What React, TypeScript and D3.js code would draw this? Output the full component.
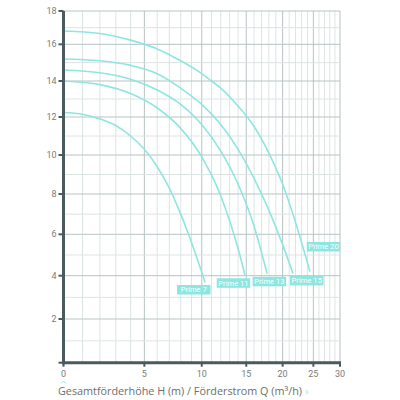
import React from 'react';
import * as d3 from 'd3';

const xTicks = [0, 5, 10, 15, 20, 25, 30];
const yTicks = [0, 2, 4, 6, 8, 10, 12, 14, 16, 18];
const xMinor = d3.range(0, 31, 1);
const yMinor = d3.range(0, 19, 1);

const seriesNames = ['Prime 7', 'Prime 11', 'Prime 13', 'Prime 15', 'Prime 20'];
const prime7Q = [0, 1, 2, 3, 4, 5, 6, 7, 8, 9, 10.33];
const prime7H = [12.25, 12.15, 11.9, 11.55, 11.0, 10.3, 9.4, 8.3, 7.0, 5.6, 3.7];
const prime11Q = [0, 2, 4, 6, 8, 10, 12, 14, 14.86];
const prime11H = [14.0, 13.8, 13.3, 12.5, 11.4, 9.9, 7.9, 5.3, 4.0];
const prime13Q = [0, 2, 4, 6, 8, 10, 12, 14, 16, 17.75];
const prime13H = [14.6, 14.45, 14.1, 13.5, 12.7, 11.6, 10.2, 8.5, 6.4, 4.1];
const prime15Q = [0, 2, 4, 6, 8, 10, 12, 14, 16, 18, 20, 21.6];
const prime15H = [15.2, 15.1, 14.85, 14.4, 13.6, 12.7, 11.6, 10.3, 8.8, 7.2, 5.5, 4.1];
const prime20Q = [0, 2, 4, 5, 6, 8, 10, 11, 12, 14, 16, 18, 20, 22, 24.4];
const prime20H = [16.8, 16.65, 16.25, 16.0, 15.75, 15.1, 14.4, 14.0, 13.6, 12.6, 11.5, 10.1, 8.5, 6.6, 4.2];

const seriesQ = [prime7Q, prime11Q, prime13Q, prime15Q, prime20Q];
const seriesH = [prime7H, prime11H, prime13H, prime15H, prime20H];

// label anchor (top-left corner) in data units
const labelQ = [7.67, 11.56, 15.81, 21.13, 23.86];
const labelH = [3.57, 3.88, 3.95, 3.99, 5.63];

const xTitle = 'Gesamtförderhöhe H (m) / Förderstrom Q (m³/h)';

const TEAL = '#8ee6e0';
const AXIS = '#4a5a5e';
const FONT = 'Roboto, "Open Sans", sans-serif';

export default function App() {
  const xLog = d3.scaleLog().domain([10, 40]).range([63.5, 340]);
  const x = (q: number) => xLog(q + 10);
  const y = d3
    .scaleLinear()
    .domain(yTicks)
    .range([362.7, 319, 275.7, 234.3, 194, 155, 117, 81, 44.3, 11]);

  const x0 = x(0);
  const x1 = x(30);
  const y0 = y(0);
  const y1 = y(18);

  const line = d3
    .line<[number, number]>()
    .x((d) => x(d[0]))
    .y((d) => y(d[1]))
    .curve(d3.curveMonotoneX);

  return (
    <svg
      width={400}
      height={400}
      style={{ position: 'absolute', left: 0, top: 0, background: '#fff' }}
      fontFamily={FONT}
    >
      {/* vertical grid */}
      {xMinor.map((q) => (
        <line
          key={'vx' + q}
          x1={x(q)}
          x2={x(q)}
          y1={y1}
          y2={y0}
          stroke={q % 5 === 0 ? '#b7c3c3' : '#dde4e4'}
          strokeWidth={1}
        />
      ))}
      {/* horizontal grid */}
      {yMinor.map((h) => (
        <line
          key={'hy' + h}
          x1={x0}
          x2={x1}
          y1={y(h)}
          y2={y(h)}
          stroke={h % 2 === 0 ? '#b7c3c3' : '#dde4e4'}
          strokeWidth={1}
        />
      ))}

      {/* curves */}
      {seriesNames.map((name, i) => {
        const pts: [number, number][] = seriesQ[i].map((q, j) => [q, seriesH[i][j]]);
        return (
          <path key={name} d={line(pts) || ''} fill="none" stroke={TEAL} strokeWidth={1.6} />
        );
      })}

      {/* labels */}
      {seriesNames.map((name, i) => {
        const lx = x(labelQ[i]);
        const ly = y(labelH[i]);
        return (
          <g key={'lab' + name}>
            <rect x={lx} y={ly} width={33.5} height={9.5} fill={TEAL} />
            <text
              x={lx + 16.75}
              y={ly + 7.3}
              textAnchor="middle"
              fontSize={7.6}
              fill="#ffffff"
            >
              {name}
            </text>
          </g>
        );
      })}

      {/* axes */}
      <line x1={x0} x2={x0} y1={y1} y2={y0 + 1.5} stroke={AXIS} strokeWidth={3} />
      <line x1={x0 - 1.5} x2={x1 + 1} y1={y0} y2={y0} stroke={AXIS} strokeWidth={3} />

      {yTicks.map((h) => (
        <g key={'yt' + h}>
          <line x1={x0 - 5} x2={x0} y1={y(h)} y2={y(h)} stroke={AXIS} strokeWidth={2} />
          {h > 0 && (
            <text
              x={x0 - 7}
              y={y(h)}
              dy="0.35em"
              textAnchor="end"
              fontSize={9}
              fill="#7a7a7a"
            >
              {h}
            </text>
          )}
        </g>
      ))}
      {xTicks.map((q) => (
        <g key={'xt' + q}>
          <line x1={x(q)} x2={x(q)} y1={y0} y2={y0 + 4} stroke={AXIS} strokeWidth={2} />
          <text x={x(q)} y={y0 + 14} textAnchor="middle" fontSize={9} fill="#7a7a7a">
            {q}
          </text>
        </g>
      ))}

      {/* small caret under axis origin */}
      <path
        d={`M${x0 - 2.5},${383.5} L${x0},${381} L${x0 + 2.5},${383.5}`}
        fill="none"
        stroke={TEAL}
        strokeWidth={1}
      />
      <text x={58} y={395} fontSize={10.8} fill="#6e6e6e" fontFamily='"Open Sans", sans-serif'>
        {xTitle}
        <tspan fill={TEAL} dx={3}>
          ›
        </tspan>
      </text>
    </svg>
  );
}
